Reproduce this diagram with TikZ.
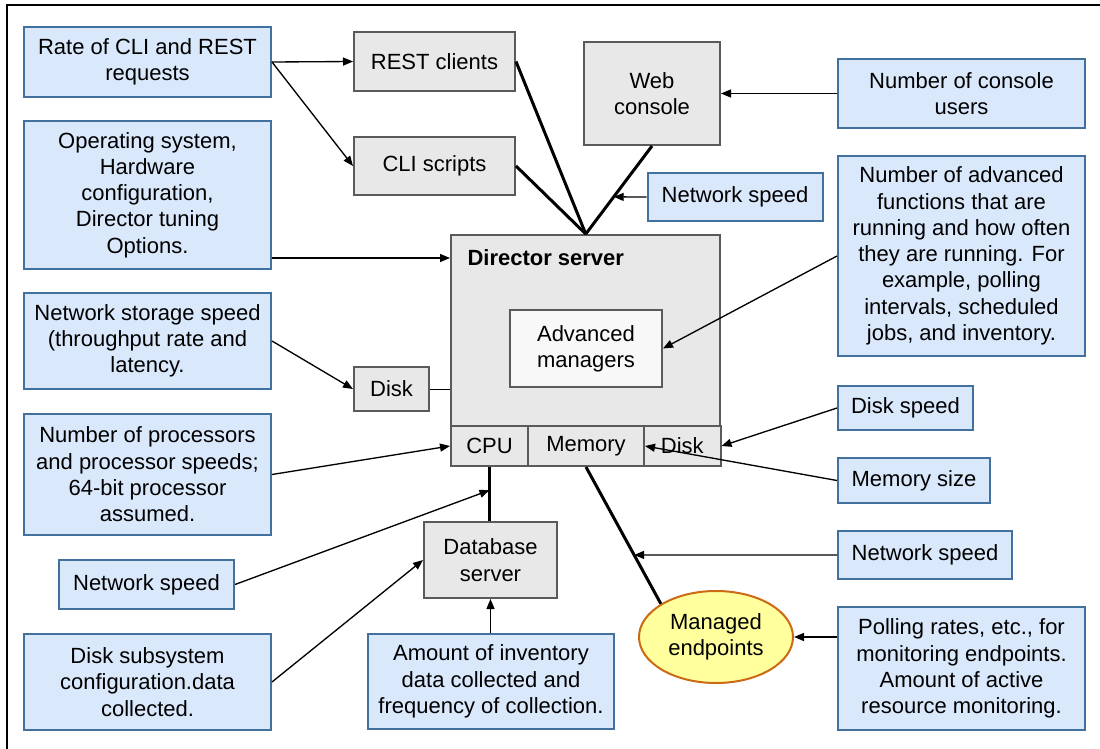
\documentclass[tikz,border=0pt]{standalone}
\usepackage{fontspec}
\setmainfont{Liberation Sans}
\usetikzlibrary{arrows.meta,calc,shapes.geometric}

\definecolor{factorfill}{HTML}{DAE8FC}
\definecolor{factorline}{HTML}{41719C}
\definecolor{partfill}{HTML}{E8E8E8}
\definecolor{partline}{HTML}{5A5A5A}
\definecolor{mgrfill}{HTML}{F8F8F8}
\definecolor{epfill}{HTML}{FFFF9E}
\definecolor{epline}{HTML}{CC6A14}

\tikzset{every picture/.style={line width=0.75pt}}
\tikzset{
  txt/.style={inner sep=0pt, align=center, font=\fontsize{16.5}{19.7}\selectfont},
  factor/.style={txt, draw=factorline, fill=factorfill, line width=1.5pt},
  part/.style={txt, draw=partline, fill=partfill, line width=1.5pt},
  feed/.style={line width=1pt, -{Triangle[length=7.5pt,width=6pt]}},
  link/.style={line width=2.25pt},
}

\begin{document}
\begin{tikzpicture}[x=0.75pt,y=0.75pt,yscale=-1,xscale=1]
\useasboundingbox (0,0) rectangle (1100,749);

%Frame
\draw [line width=1.1pt] (7,749) -- (7,5) -- (1100,5) ;

% Director server and its parts
\node [part, minimum width=202.1pt, minimum height=173.25pt] (director) at (585.75,350.5) {};
\node [txt, anchor=west, font=\fontsize{16.5}{19.7}\selectfont\bfseries] (dirlbl) at (467,258) {Director server};
\node [part, fill=mgrfill, minimum width=114pt, minimum height=57.75pt] (mgr) at (586,348.5) {Advanced\\managers};
\node [part, minimum width=57.75pt, minimum height=30pt] (cpu) at (489.5,446) {CPU};
\node [part, minimum width=87pt, minimum height=30pt] (mem) at (586,446) {Memory};
\node [part, minimum width=57.4pt, minimum height=30pt] (diskc) at (682.25,446) {Disk};

% Gray boxes
\node [part, minimum width=120.75pt, minimum height=44.25pt] (rest) at (434.5,61.5) {REST clients};
\node [part, minimum width=120.75pt, minimum height=43.5pt] (cli) at (434.5,166) {CLI scripts};
\node [part, minimum width=102pt, minimum height=77.25pt] (web) at (652,93.5) {Web\\console};
\node [part, minimum width=56.25pt, minimum height=33pt] (disk) at (391.5,389) {Disk};
\node [part, minimum width=99.75pt, minimum height=57pt] (db) at (490.5,560) {Database\\server};

% Endpoints
\node [ellipse, txt, draw=epline, fill=epfill, line width=1.5pt, minimum width=115.5pt, minimum height=69pt] (ep) at (716,637) {Managed\\endpoints};

% Factors, left column
\node [factor, minimum width=185.25pt, minimum height=52.5pt] (rate) at (147.5,62) {Rate of CLI and REST\\requests};
\node [factor, minimum width=185.25pt, minimum height=111pt] (os) at (147.5,195) {Operating system,\\Hardware\\configuration,\\Director tuning\\Options.};
\node [factor, minimum width=185.25pt, minimum height=72pt] (nss) at (147.5,341) {Network storage speed\\(throughput rate and\\latency.};
\node [factor, minimum width=185.25pt, minimum height=90.75pt] (proc) at (147.5,474.5) {Number of processors\\and processor speeds;\\64-bit processor\\assumed.};
\node [factor, minimum width=131.25pt, minimum height=36.75pt] (netl) at (146.5,584.5) {Network speed};
\node [factor, minimum width=185.25pt, minimum height=72pt] (disksub) at (147.5,682) {Disk subsystem\\configuration.data\\collected.};
\node [factor, minimum width=184.5pt, minimum height=71.25pt] (inv) at (491,681.5) {Amount of inventory\\data collected and\\frequency of collection.};

% Factors, right column
\node [factor, minimum width=185.25pt, minimum height=51.75pt] (users) at (961.5,93.5) {Number of console\\users};
\node [factor, minimum width=131.25pt, minimum height=36pt] (nett) at (735,197) {Network speed};
\node [factor, minimum width=185.25pt, minimum height=150pt] (adv) at (961.5,256) {Number of advanced\\functions that are\\running and how often\\they are running. For\\example, polling\\intervals, scheduled\\jobs, and inventory.};
\node [factor, minimum width=101.25pt, minimum height=33pt] (dspeed) at (905.5,408) {Disk speed};
\node [factor, minimum width=114pt, minimum height=33.75pt] (msize) at (914,480.5) {Memory size};
\node [factor, minimum width=130.5pt, minimum height=36pt] (netr) at (925,555) {Network speed};
\node [factor, minimum width=185.25pt, minimum height=92.25pt] (poll) at (961.5,668.5) {Polling rates, etc., for\\monitoring endpoints.\\Amount of active\\resource monitoring.};

%Thick links
\draw [link] (rest.east) -- (director.north) ;
\draw [link] (cli.east) -- (director.north) ;
\draw [link] (web.south) -- (director.north) ;
\draw [link] (cpu.south) -- (cpu.south |- db.north) ;
\draw [link] (mem.south) -- (ep.north west) ;
\draw (disk.east) -- (director.west |- disk.east) ;

%Points on the links
\coordinate (webtap) at ($(web.south)!0.578!(director.north)$) ;
\coordinate (dbtap) at ($(cpu.south)!0.43!(cpu.south |- db.north)$) ;
\coordinate (eptap) at ($(mem.south)!0.643!(ep.north west)$) ;

%Arrows
\draw [feed] (rate.east) -- (rest.west) ;
\draw [feed] (rate.east) -- (cli.west) ;
\draw [feed] (users.west) -- (web.east |- users.west) ;
\draw [feed] (nett.west) -- (webtap) ;
\draw [feed] (os.east |- dirlbl) -- (director.west |- dirlbl) ;
\draw [feed] (adv.west) -- (mgr.east) ;
\draw [feed] (nss.east) -- (disk.west) ;
\draw [feed] (proc.east) -- (cpu.west) ;
\draw [feed] (dspeed.west) -- (diskc.east) ;
\draw [feed] (msize.west) -- (mem.east) ;
\draw [feed] (netl.east) -- (dbtap) ;
\draw [feed] (disksub.east) -- (db.west) ;
\draw [feed] (db.south |- inv.north) -- (db.south) ;
\draw [feed] (netr.west) -- (eptap) ;
\draw [feed] (poll.west |- ep.east) -- (ep.east) ;

\end{tikzpicture}
\end{document}
